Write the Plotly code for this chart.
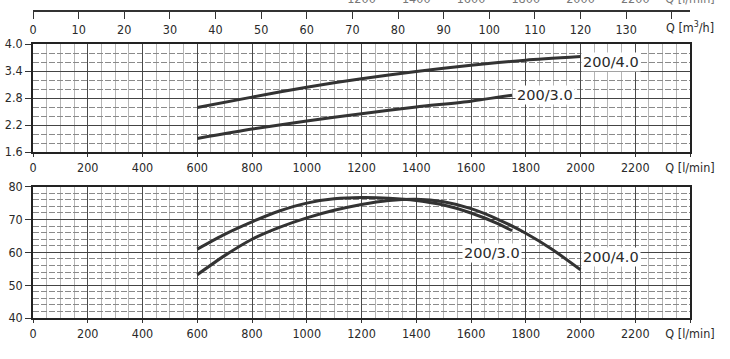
import plotly.graph_objects as go

# ---------------- data ----------------
q_ticks_lmin = [0, 200, 400, 600, 800, 1000, 1200, 1400, 1600, 1800, 2000, 2200]
q_ticks_m3h = [0, 10, 20, 30, 40, 50, 60, 70, 80, 90, 100, 110, 120, 130]

head_ticks = [1.6, 2.2, 2.8, 3.4, 4.0]
eff_ticks = [40, 50, 60, 70, 80]

# upper panel (head curves)
q_head_40 = [600, 800, 1000, 1200, 1400, 1600, 1800, 2000]
h_40 = [2.59, 2.82, 3.04, 3.23, 3.39, 3.53, 3.64, 3.72]
q_head_30 = [600, 800, 1000, 1200, 1400, 1600, 1750]
h_30 = [1.90, 2.11, 2.29, 2.45, 2.60, 2.73, 2.86]

# lower panel (efficiency curves)
q_eff_30 = [600, 700, 800, 900, 1000, 1100, 1200, 1300, 1400, 1500, 1600, 1700, 1750]
e_30 = [61.0, 65.5, 69.3, 72.6, 75.0, 76.3, 76.7, 76.5, 75.8, 74.4, 72.0, 68.7, 66.6]
q_eff_40 = [600, 700, 800, 900, 1000, 1100, 1200, 1300, 1400, 1500, 1600, 1700, 1800, 1900, 2000]
e_40 = [53.2, 59.0, 64.0, 67.6, 70.5, 72.8, 74.6, 75.8, 76.2, 75.4, 73.3, 70.0, 65.8, 60.7, 54.7]

clipped_top_ticks = [1200, 1400, 1600, 1800, 2000, 2200]

# ---------------- style ----------------
W, H = 730, 359
TICK_FONT = dict(family="Liberation Sans Narrow, Arial Narrow, DejaVu Sans Condensed, sans-serif",
                 size=12.5, color="#2a2a2a")
LABEL_FONT = dict(family="DejaVu Sans, sans-serif", size=14.5, color="#2a2a2a")
CURVE = dict(color="#333333", width=3, shape="spline", smoothing=0.6)
XMAX = 2400

def px_x(p):
    return p / W

def px_y(p):
    return 1 - p / H

xdom = [px_x(33), px_x(690)]

fig = go.Figure()

fig.add_trace(go.Scatter(x=q_head_40, y=h_40, mode="lines", line=CURVE, xaxis="x", yaxis="y", showlegend=False))
fig.add_trace(go.Scatter(x=q_head_30, y=h_30, mode="lines", line=CURVE, xaxis="x", yaxis="y", showlegend=False))
fig.add_trace(go.Scatter(x=q_eff_30, y=e_30, mode="lines", line=CURVE, xaxis="x2", yaxis="y2", showlegend=False))
fig.add_trace(go.Scatter(x=q_eff_40, y=e_40, mode="lines", line=CURVE, xaxis="x2", yaxis="y2", showlegend=False))
# dummy traces for the top axes
fig.add_trace(go.Scatter(x=[0, 144], y=[0, 0], mode="markers", marker=dict(opacity=0),
                         xaxis="x3", yaxis="y3", showlegend=False, hoverinfo="skip"))
fig.add_trace(go.Scatter(x=[0, XMAX], y=[0, 0], mode="markers", marker=dict(opacity=0),
                         xaxis="x4", yaxis="y4", showlegend=False, hoverinfo="skip"))

def xaxis_common(anchor):
    return dict(
        domain=xdom, anchor=anchor, range=[0, XMAX],
        tickmode="array", tickvals=q_ticks_lmin + [XMAX],
        ticktext=[str(v) for v in q_ticks_lmin] + ["Q [l/min]"],
        tickfont=TICK_FONT, ticks="outside", ticklen=3, tickcolor="#333",
        showline=True, mirror=True, linecolor="#222", linewidth=1.6,
        showgrid=True, gridcolor="#4a4a4a", gridwidth=1.2,
        minor=dict(dtick=50, tick0=0, showgrid=True, gridcolor="#b5b5b5", gridwidth=0.8, ticks=""),
        zeroline=False, fixedrange=True, automargin=False,
    )

def yaxis_common(anchor, dom, rng, vals, fmt, minor_dt):
    return dict(
        domain=dom, anchor=anchor, range=rng,
        tickmode="array", tickvals=vals, ticktext=[fmt(v) for v in vals],
        tickfont=TICK_FONT, ticks="outside", ticklen=6, tickcolor="#333",
        showline=True, mirror=True, linecolor="#222", linewidth=1.6,
        showgrid=True, gridcolor="#444", gridwidth=1.2,
        minor=dict(dtick=minor_dt, tick0=rng[0], showgrid=True, gridcolor="#8a8a8a",
                   gridwidth=0.8, griddash="6px,2px", ticks=""),
        zeroline=False, fixedrange=True, automargin=False,
    )

fig.update_layout(
    width=W, height=H,
    margin=dict(l=0, r=0, t=0, b=0, autoexpand=False),
    paper_bgcolor="white", plot_bgcolor="white",
    xaxis=xaxis_common("y"),
    yaxis=yaxis_common("x", [px_y(152), px_y(44)], [1.6, 4.0], head_ticks, lambda v: f"{v:.1f}", 0.2),
    xaxis2=xaxis_common("y2"),
    yaxis2=yaxis_common("x2", [px_y(318), px_y(186.7)], [40, 80], eff_ticks, lambda v: f"{v:d}", 2),
    xaxis3=dict(
        domain=xdom, anchor="y3", range=[0, 144],
        tickmode="array", tickvals=q_ticks_m3h + [140],
        ticktext=[str(v) for v in q_ticks_m3h] + [" "],
        tickfont=TICK_FONT, ticks="outside", ticklen=7, tickcolor="#333", tickwidth=1.3,
        showline=True, linecolor="#333", linewidth=1.5,
        showgrid=False, zeroline=False, fixedrange=True, automargin=False,
    ),
    yaxis3=dict(domain=[px_y(10), px_y(5)], anchor="x3", visible=False, range=[0, 1], fixedrange=True),
    # labels of the chart above, cut off by the top edge
    xaxis4=dict(
        domain=xdom, anchor="y4", side="top", range=[0, XMAX],
        tickmode="array", tickvals=clipped_top_ticks + [XMAX],
        ticktext=[str(v) for v in clipped_top_ticks] + ["Q [l/min]"],
        tickfont=dict(TICK_FONT, color="#777"), ticks="", showline=False,
        showgrid=False, zeroline=False, fixedrange=True, automargin=False,
    ),
    yaxis4=dict(domain=[px_y(7), px_y(6)], anchor="x4", visible=False, range=[0, 1], fixedrange=True),
    showlegend=False,
)

annotations = []
for txt, x, y, xr, yr in [
    ("200/4.0", 2113, 3.60, "x", "y"),
    ("200/3.0", 1872, 2.87, "x", "y"),
    ("200/3.0", 1676, 59.8, "x2", "y2"),
    ("200/4.0", 2113, 58.5, "x2", "y2"),
]:
    annotations.append(dict(text=txt, x=x, y=y, xref=xr, yref=yr, showarrow=False,
                            font=LABEL_FONT, bgcolor="white", borderpad=1))
annotations.append(dict(text="Q [m<sup>3</sup>/h]", x=144, xref="x3", y=px_y(27), yref="paper",
                        showarrow=False, font=TICK_FONT, xanchor="center", yanchor="middle"))
fig.update_layout(annotations=annotations)

fig.write_html("out.html", config={"displayModeBar": False},
               post_script="document.body.style.margin='0';")
